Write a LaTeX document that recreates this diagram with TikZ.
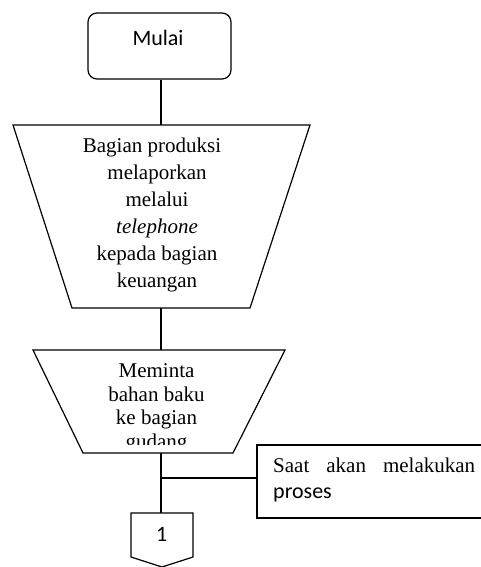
\documentclass[tikz,border=0pt]{standalone}
\usepackage{fontspec}
\setmainfont{Liberation Serif}
\newfontfamily\calfont{Carlito}
\begin{document}
\begin{tikzpicture}[x=1pt,y=-1pt,
  shapeline/.style={draw=black,line width=1.2pt,line join=miter},
  connector/.style={draw=black,line width=1.2pt},
  sertext/.style={inner sep=0pt,align=center,font=\fontsize{21}{27}\selectfont},
  sanstext/.style={inner sep=0pt,font=\calfont\fontsize{22}{26}\selectfont}]
\useasboundingbox (0,0) rectangle (481,567);

% Start terminator
\node[shapeline, rounded corners=9pt, minimum width=143pt, minimum height=66pt, inner sep=0pt] (mulai) at (159.5,46) {};
\node[sanstext, anchor=base] (mulaitext) at (158,46) {Mulai};

% Manual operation 1
\draw[shapeline] (13,125) -- (310,125) -- (250,308) -- (72,308) -- cycle;
\coordinate (t1n) at (161,125);
\coordinate (t1s) at (161,308);
\node[sertext, anchor=north] (t1text) at (157,137.5)
  {Bagian produksi\hspace*{10pt}\\melaporkan\\melalui\\\textit{telephone}\\kepada bagian\\keuangan};

% Manual operation 2
\draw[shapeline] (33,350) -- (285,350) -- (233,453) -- (83,453) -- cycle;
\coordinate (t2n) at (161,350);
\coordinate (t2s) at (161,453);
\begin{scope}
  \clip (0,0) rectangle (481,444);
  \node[sertext, anchor=north, font=\fontsize{21}{23.5}\selectfont] (t2text) at (156.5,363.7)
    {Meminta\\bahan baku\\ke bagian\\gudang};
\end{scope}

% Annotation
\draw[connector] (482,445) -- (257,445) -- (257,518) -- (482,518);
\coordinate (notew) at (257,478);
\coordinate (br) at (161,478);
\node[sertext, anchor=base west, align=left] (note1) at (273,472)
  {\makebox[202pt][s]{Saat\hfill akan\hfill melakukan}};
\node[sanstext, anchor=base west] (note2) at (273,498) {proses};

% Off-page connector
\draw[shapeline] (131,513) -- (193,513) -- (193,557) -- (162,567) -- (131,557) -- cycle;
\coordinate (p1n) at (161,513);
\node[sanstext, anchor=base] (onetext) at (161.7,541) {1};

% Connectors
\draw[connector] (mulai.south -| t1n) -- (t1n);
\draw[connector] (t1s) -- (t2n);
\draw[connector] (t2s) -- (p1n);
\draw[connector] (br) -- (notew);
\end{tikzpicture}
\end{document}
